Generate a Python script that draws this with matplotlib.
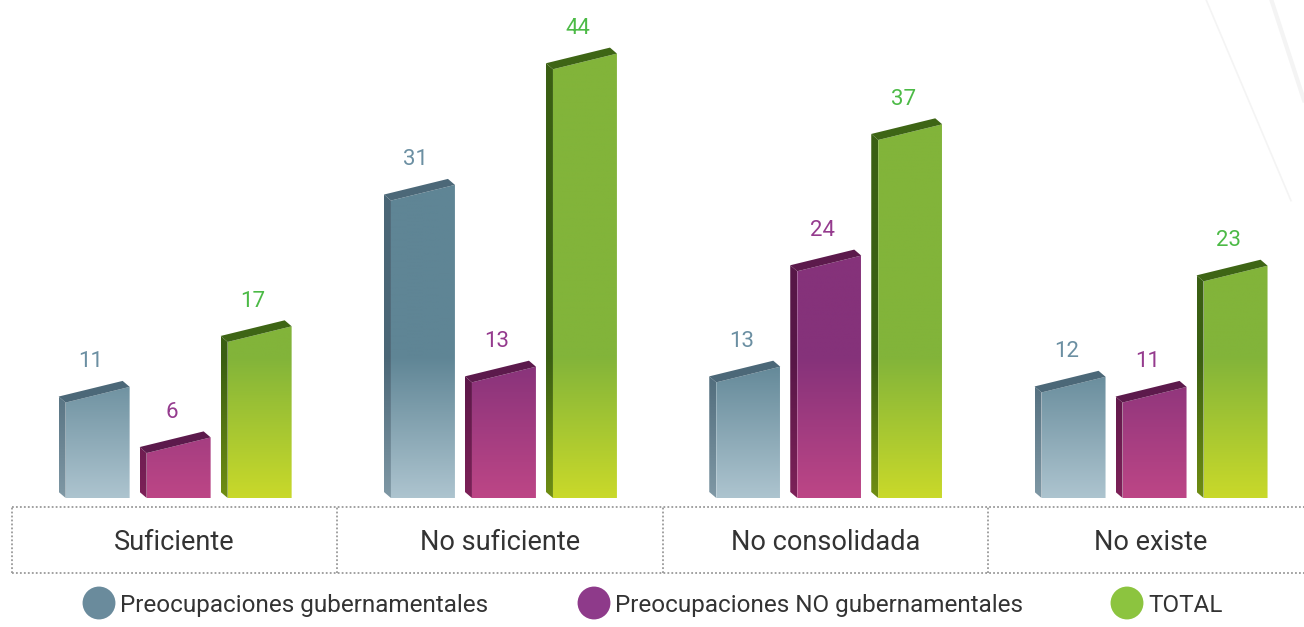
import numpy as np
import matplotlib.pyplot as plt
from matplotlib.patches import Polygon
from matplotlib.colors import LinearSegmentedColormap

plt.rcParams['font.family'] = ['Roboto', 'DejaVu Sans']

# data
categories = ['Suficiente', 'No suficiente', 'No consolidada', 'No existe']
series_names = ['Preocupaciones gubernamentales', 'Preocupaciones NO gubernamentales', 'TOTAL']
gov = [11, 31, 13, 12]
non_gov = [6, 13, 24, 11]
total = [17, 44, 37, 23]
series = [gov, non_gov, total]

# colours: front (top, bottom), side (top, bottom), top face, value label, legend dot
styles = [
    dict(front=('#5f8595', '#adc4cf'), side=('#4a6676', '#7f98a5'), top='#4c6878',
         label='#6b8fa2', dot='#6a8b9c'),
    dict(front=('#85327a', '#bd4686'), side=('#571647', '#7d2158'), top='#5c1a4c',
         label='#953b8e', dot='#8e3a8a'),
    dict(front=('#82b43a', '#c9d92a'), side=('#3a5f13', '#6f8d12'), top='#3e6515',
         label='#4cba46', dot='#8cc43f'),
]

W, H = 1304, 627
PXX = 1 / 325.3          # category units per pixel
PXY = 1 / 10.1           # value units per pixel
BASE = 498               # baseline row in pixels

fig = plt.figure(figsize=(W / 100, H / 100), dpi=100)
ax = fig.add_axes([0, 0, 1, 1])
xlim = (-12 * PXX, (W - 12) * PXX)
ylim = (-(H - BASE) * PXY, BASE * PXY)

bar_w = 64 * PXX
spacing = 81 * PXX
dx, dy = -7 * PXX, 6 * PXY     # depth of the box (back-left-up)
slant = 1.55                   # front top edge drops to the left
grad_h = 14.0                  # gradient height in value units


def gradient_fill(poly, c_top, c_bot, x_lo, x_hi, y_top):
    cmap = LinearSegmentedColormap.from_list('g', [c_bot, c_top])
    yy = np.linspace(0, y_top, 300)
    t = np.clip(yy / grad_h, 0, 1)[:, None]
    im = ax.imshow(cmap(t), extent=(x_lo, x_hi, 0, y_top), origin='lower',
                   aspect='auto', interpolation='bilinear', zorder=2)
    ax.add_patch(poly)
    im.set_clip_path(poly)


for g in range(len(categories)):
    center = g + 0.5 + 4 * PXX
    for k, vals in enumerate(series):
        st = styles[k]
        v = vals[g]
        xc = center + (k - 1) * spacing
        x0, x1 = xc - bar_w / 2, xc + bar_w / 2
        # side face
        side = Polygon([(x0, 0), (x0, v - slant), (x0 + dx, v - slant + dy), (x0 + dx, dy)],
                       closed=True, facecolor='none', edgecolor='none', zorder=2)
        gradient_fill(side, *st['side'], x0 + dx, x0, v + dy)
        # front face
        front = Polygon([(x0, 0), (x1, 0), (x1, v), (x0, v - slant)],
                        closed=True, facecolor='none', edgecolor='none', zorder=2)
        gradient_fill(front, *st['front'], x0, x1, v)
        # top face
        top = Polygon([(x0, v - slant), (x1, v), (x1 + dx, v + dy), (x0 + dx, v - slant + dy)],
                      closed=True, facecolor=st['top'], edgecolor='none', zorder=3)
        ax.add_patch(top)
        # thin highlight on the right edge
        ax.plot([x1, x1], [0, v], color='white', lw=0.8, alpha=0.6, zorder=4)
        ax.text(xc - 7 * PXX, v + 2.5, str(v), color=st['label'], fontsize=16,
                ha='center', va='center', zorder=5)

# category table with dotted borders
y_top_tbl = -(507 - BASE) * PXY
y_bot_tbl = -(573 - BASE) * PXY
line_kw = dict(color='#9a9a9a', lw=1.3, ls=(0, (1, 1.2)), zorder=1)
ax.plot([0, xlim[1]], [y_top_tbl, y_top_tbl], **line_kw)
ax.plot([0, xlim[1]], [y_bot_tbl, y_bot_tbl], **line_kw)
for g in range(len(categories)):
    ax.plot([g, g], [y_bot_tbl, y_top_tbl], **line_kw)
    ax.text(g + 0.5, (y_top_tbl + y_bot_tbl) / 2 - 0.25, categories[g], fontsize=19.5,
            color='#333333', ha='center', va='center')

# legend
leg_y = -(603 - BASE) * PXY
leg_x = [(99 - 12) * PXX, (594 - 12) * PXX, (1127 - 12) * PXX]
for k, name in enumerate(series_names):
    ax.scatter([leg_x[k]], [leg_y], s=560, color=styles[k]['dot'], edgecolor='none', zorder=3)
    ax.text(leg_x[k] + 21 * PXX, leg_y - 0.2, name, fontsize=17.5, color='#333333',
            ha='left', va='center')

# faint decorative strokes in the upper right corner
ax.plot([0.925, 0.99], [1.0, 0.68], transform=ax.transAxes, color='#f4f4f4', lw=1.2, zorder=0)
ax.plot([0.975, 1.0], [1.0, 0.84], transform=ax.transAxes, color='#f4f4f4', lw=3, zorder=0)

ax.set_xlim(*xlim)
ax.set_ylim(*ylim)
ax.axis('off')

fig.savefig('out.png', dpi=100)
